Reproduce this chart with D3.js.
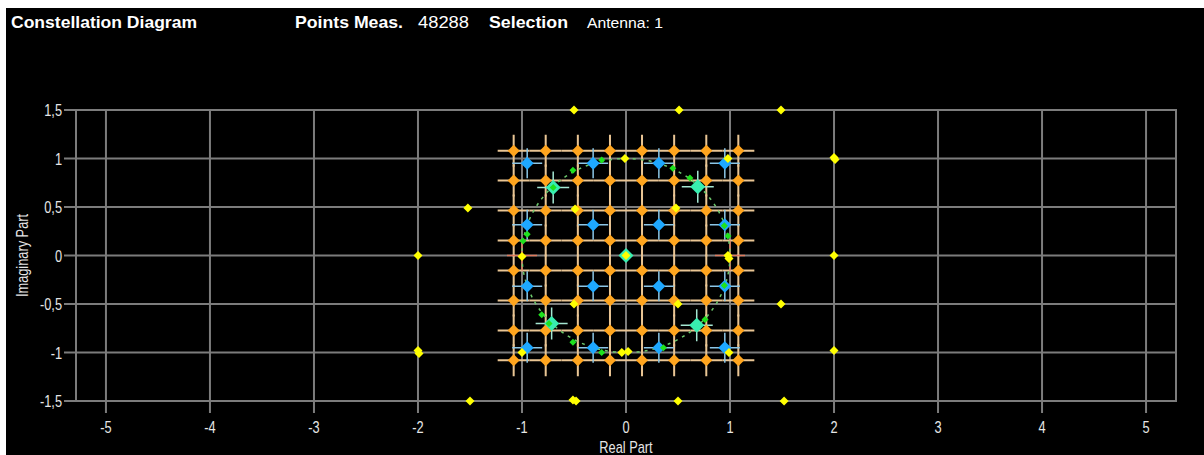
<!DOCTYPE html>
<html>
<head>
<meta charset="utf-8">
<script src="https://cdn.jsdelivr.net/npm/d3@7"></script>
<style>
  html, body { margin: 0; padding: 0; background: #fff; }
  svg { display: block; }
  text { font-family: "Liberation Sans", Arial, sans-serif; }
</style>
</head>
<body>
<div id="vis"></div>
<script>
// axis ticks
const xTicks = [-5, -4, -3, -2, -1, 0, 1, 2, 3, 4, 5];
const yTicks = [-1.5, -1, -0.5, 0, 0.5, 1, 1.5];
const yTickLabels = ["-1,5", "-1", "-0,5", "0", "0,5", "1", "1,5"];

// 64-QAM reference levels (orange)
const qam64Levels = [-1.08, -0.772, -0.463, -0.154, 0.154, 0.463, 0.772, 1.08];
// 16-QAM reference levels (blue)
const qam16Levels = [-0.95, -0.316, 0.316, 0.95];
// QPSK points (teal)
const qpskPts = [[-0.70, 0.70], [0.69, 0.71], [-0.715, -0.70], [0.68, -0.72], [0, 0]];
// BPSK reference (red crosshair)
const bpskPts = [[-1, 0], [1, 0]];
// measured PSK-like points on the unit circle (green)
const greenPts = [
  [-0.234, 0.985], [-0.51, 0.88], [-0.99, 0.15], [-0.70, 0.70],
  [0.45, 0.90], [0.615, 0.80], [0.945, 0.307], [0.98, 0.20],
  [-0.81, -0.61], [-0.74, -0.70], [-0.51, -0.895], [-0.234, -1.0],
  [0.945, -0.31], [0.76, -0.66], [0.36, -0.95], [-0.95, 0.22]
];
// measured points (yellow)
const yellowPts = [
  [-0.5, 1.5], [0.51, 1.5], [1.49, 1.5],
  [-1.52, 0.49], [-0.01, 1.0], [0.98, 1.0], [2.0, 1.01], [2.01, 0.99],
  [-0.49, 0.48], [0.48, 0.49],
  [-2.0, 0], [-1.0, -0.01], [0.98, 0], [0.99, -0.03], [2.0, 0], [0, 0],
  [-0.5, -0.5], [0.5, -0.5], [1.49, -0.5],
  [-2.0, -0.98], [-1.99, -1.01], [-1.0, -1.0], [-0.04, -1.0], [0.02, -0.99], [0.99, -1.0], [2.0, -0.98],
  [-1.5, -1.5], [-0.51, -1.49], [-0.48, -1.5], [0.5, -1.5], [1.52, -1.5]
];

const W = 1204, H = 455;
const plot = {left: 76, right: 1176, top: 110, bottom: 401};
const squeeze = 0.8;

const svg = d3.select("#vis").append("svg")
  .attr("width", W)
  .attr("height", H);

svg.append("rect")
  .attr("x", 6).attr("y", 8)
  .attr("width", W - 6).attr("height", H - 8)
  .attr("fill", "#000");

const x = d3.scaleLinear().domain([-5.288, 5.288]).range([plot.left, plot.right]);
const y = d3.scaleLinear().domain([-1.5, 1.5]).range([plot.bottom, plot.top]);

// condensed text helper
function ctext(g, tx, ty, str, opts) {
  opts = opts || {};
  const t = g.append("text")
    .attr("transform", `translate(${tx},${ty})${opts.rotate ? " rotate(" + opts.rotate + ")" : ""} scale(${squeeze},1)`)
    .attr("text-anchor", opts.anchor || "start")
    .text(str);
  if (opts.bold) t.attr("font-weight", "bold");
  if (opts.size) t.attr("font-size", opts.size);
  return t;
}

// header
const header = svg.append("g").attr("fill", "#fff").attr("font-size", 16);
ctext(header, 11, 28, "Constellation Diagram", {bold: true})
  .attr("textLength", 186 / squeeze).attr("lengthAdjust", "spacingAndGlyphs");
ctext(header, 295, 28, "Points Meas.", {bold: true})
  .attr("textLength", 108 / squeeze).attr("lengthAdjust", "spacingAndGlyphs");
ctext(header, 418, 28, "48288")
  .attr("textLength", 51 / squeeze).attr("lengthAdjust", "spacingAndGlyphs");
ctext(header, 489, 28, "Selection", {bold: true})
  .attr("textLength", 79 / squeeze).attr("lengthAdjust", "spacingAndGlyphs");
ctext(header, 587, 28, "Antenna: 1", {size: 15})
  .attr("textLength", 76 / squeeze).attr("lengthAdjust", "spacingAndGlyphs");

// grid
const gridColor = "#7c7c7c";
const grid = svg.append("g").attr("stroke", gridColor).attr("stroke-width", 2);
grid.selectAll(".vx").data(xTicks).join("line")
  .attr("x1", d => x(d)).attr("x2", d => x(d))
  .attr("y1", plot.top).attr("y2", plot.bottom + 12);
grid.selectAll(".hy").data(yTicks).join("line")
  .attr("x1", plot.left - 12).attr("x2", plot.right)
  .attr("y1", d => y(d)).attr("y2", d => y(d));
grid.append("rect")
  .attr("x", plot.left).attr("y", plot.top)
  .attr("width", plot.right - plot.left).attr("height", plot.bottom - plot.top)
  .attr("fill", "none");

// tick labels
const labels = svg.append("g").attr("fill", "#e6e6e6").attr("font-size", 16);
xTicks.forEach(d => ctext(labels, x(d), 433, d, {anchor: "middle"}));
yTicks.forEach((d, i) => ctext(labels, 62, y(d) + 6, yTickLabels[i], {anchor: "end"}));
ctext(labels, x(0), 453, "Real Part", {anchor: "middle", size: 16});
ctext(labels, 28, y(0), "Imaginary Part", {anchor: "middle", size: 16, rotate: -90});

const diamond = r => `M0,${-r}L${r},0L0,${r}L${-r},0Z`;

function crosshairs(g, pts, len, color, width) {
  g.selectAll(null).data(pts).join("path")
    .attr("d", d => `M${x(d[0]) - len},${y(d[1])}H${x(d[0]) + len}M${x(d[0])},${y(d[1]) - len}V${y(d[1]) + len}`)
    .attr("stroke", color)
    .attr("stroke-width", width)
    .attr("fill", "none");
}
function markers(g, pts, r, color) {
  g.selectAll(null).data(pts).join("path")
    .attr("transform", d => `translate(${x(d[0])},${y(d[1])})`)
    .attr("d", diamond(r))
    .attr("fill", color);
}

const qam64Pts = d3.cross(qam64Levels, qam64Levels);
const qam16Pts = d3.cross(qam16Levels, qam16Levels);

const marks = svg.append("g");
crosshairs(marks.append("g"), qam64Pts, 16, "#e9c594", 2);
crosshairs(marks.append("g"), qam16Pts, 15, "#8cc6e6", 1.5);
crosshairs(marks.append("g"), qpskPts.slice(0, 4), 16, "#a4e6d2", 1.5);
crosshairs(marks.append("g"), bpskPts, 15, "#e07a5c", 1.5);

// dashed unit circle
marks.append("ellipse")
  .attr("cx", x(0)).attr("cy", y(0))
  .attr("rx", x(1) - x(0)).attr("ry", y(0) - y(1))
  .attr("fill", "none")
  .attr("stroke", "#6cc86c")
  .attr("stroke-width", 1.5)
  .attr("stroke-dasharray", "3,5");

markers(marks.append("g"), qam64Pts, 6, "#ffa51e");
markers(marks.append("g"), qam16Pts, 6.5, "#1ea8ff");
markers(marks.append("g"), qpskPts, 7.5, "#38eeb0");
markers(marks.append("g"), greenPts, 3.5, "#1ee21e");
markers(marks.append("g"), yellowPts, 4.5, "#ffff00");
</script>
</body>
</html>
